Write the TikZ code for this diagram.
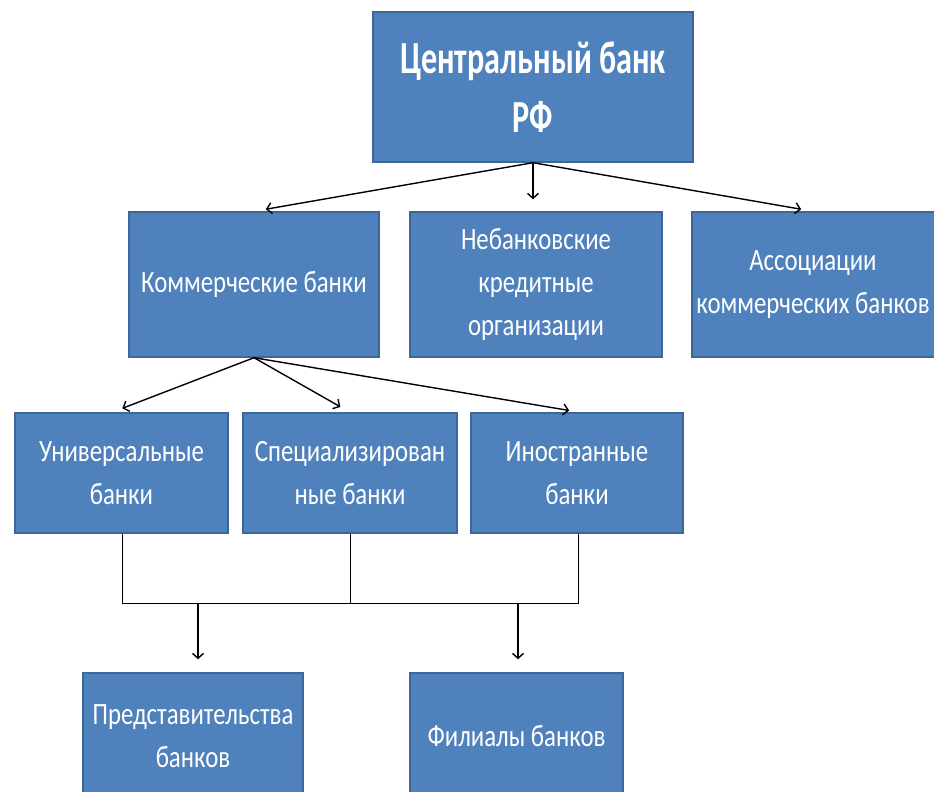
\documentclass[tikz,border=0pt]{standalone}
\usepackage{fontspec}
\setmainfont{Carlito}[FakeStretch=0.8]
\newfontfamily\titlefont{Carlito}[FakeStretch=0.7]
\usetikzlibrary{arrows.meta}
\definecolor{boxfill}{HTML}{4F81BD}
\definecolor{boxline}{HTML}{3C6796}
\tikzset{
  bank/.style={draw=boxline, line width=1.4pt, fill=boxfill, text=white,
    align=center, inner sep=0pt, font=\fontsize{31}{43}\selectfont},
  title/.style={bank, font=\titlefont\bfseries\fontsize{46}{59}\selectfont},
  link/.style={line width=1.4pt, draw=black},
  arr/.style={link, -{Straight Barb[length=5pt,width=11pt,line width=1.4pt]}},
}
\begin{document}
\begin{tikzpicture}[x=1pt,y=-1pt]
\useasboundingbox (0,0) rectangle (934,792);
\fill[white] (0,0) rectangle (934,792);
% top
\node[title, minimum width=320pt, minimum height=150pt] (cb) at (533,87) {Центральный банк\\РФ};
% row 2
\node[bank, minimum width=250pt, minimum height=145pt] (kb) at (254,284.5) {Коммерческие банки};
\node[bank, minimum width=252pt, minimum height=145pt] (nko) at (536,284.5) {Небанковские\\кредитные\\организации};
\node[bank, minimum width=248pt, minimum height=145pt] (ab) at (816,284.5) {\hspace*{-6pt}Ассоциации\\\hspace*{-6pt}коммерческих банков};
% row 3
\node[bank, minimum width=213pt, minimum height=120pt] (ub) at (121.5,473) {Универсальные\\банки};
\node[bank, minimum width=214pt, minimum height=120pt] (sb) at (350,473) {Специализирован\\ные банки};
\node[bank, minimum width=212pt, minimum height=120pt] (ib) at (577,473) {Иностранные\\банки};
% row 4
\node[bank, minimum width=220pt, minimum height=126pt] (pb) at (193,736) {Представительства\\банков};
\node[bank, minimum width=213pt, minimum height=126pt] (fb) at (516.5,736) {Филиалы банков};
% connectors from top
\draw[arr, shorten >=12pt] (cb.south) -- (kb.north);
\draw[arr, shorten >=12pt] (cb.south) -- (cb.south |- nko.north);
\draw[arr, shorten >=12pt] (cb.south) -- (ab.north -| 813,0);
% connectors from commercial banks
\draw[arr, shorten >=11pt] (kb.south) -- (ub.north -| 112,0);
\draw[arr, shorten >=11pt] (kb.south) -- (sb.north -| 350,0);
\draw[arr, shorten >=11pt] (kb.south) -- (ib.north -| 580,0);
% collector
\coordinate (h1) at (122,603);
\coordinate (h2) at (350,603);
\coordinate (h3) at (578,603);
\coordinate (j1) at (198,603);
\coordinate (j2) at (518,603);
\draw[link, line width=1pt] (ub.south -| h1) -- (h1) -- (h3) -- (ib.south -| h3);
\draw[link, line width=1pt] (sb.south -| h2) -- (h2);
\draw[arr, shorten >=13pt] (j1) -- (j1 |- pb.north);
\draw[arr, shorten >=13pt] (j2) -- (j2 |- fb.north);
\end{tikzpicture}
\end{document}
